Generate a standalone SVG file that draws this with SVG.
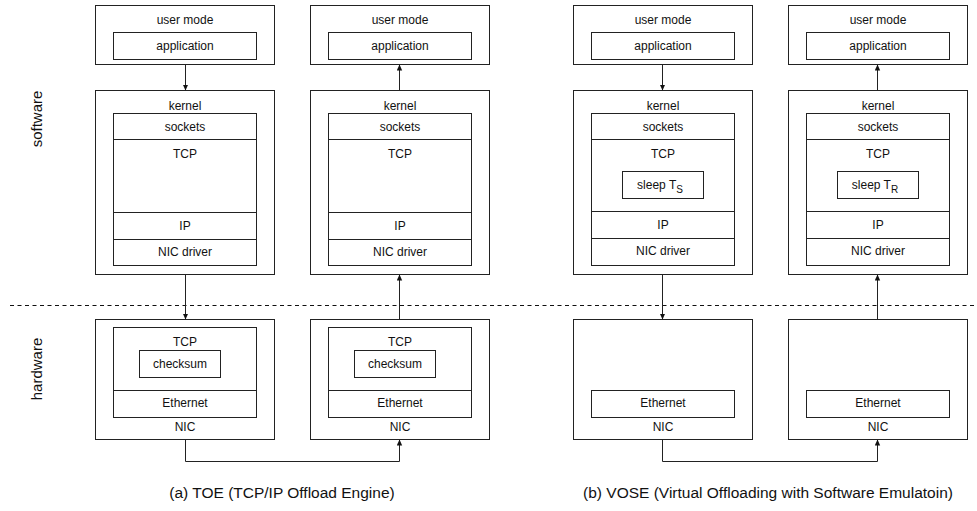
<svg xmlns="http://www.w3.org/2000/svg" width="977" height="511" viewBox="0 0 977 511">
<defs>
<marker id="ah" viewBox="0 0 6 6" refX="6" refY="3" markerWidth="6" markerHeight="6" markerUnits="userSpaceOnUse" orient="auto">
<path d="M0,0.3 L6,3 L0,5.7 Z" fill="#111"/>
</marker>
<style>
rect{fill:#fff;stroke:#222;stroke-width:1}
line.d{stroke:#222;stroke-width:1}
text{font-family:"Liberation Sans",Arial,Helvetica,sans-serif;font-size:12px;fill:#111;text-anchor:middle}
.big{font-size:15px}
.cap{font-size:15.5px}
.c{fill:none;stroke:#222;stroke-width:1}
</style>
</defs>
<rect width="977" height="511" style="fill:#fff;stroke:none"/>

<line x1="10" y1="305.5" x2="977" y2="305.5" style="stroke:#111;stroke-width:1;stroke-dasharray:4 3.5"/>
<text class="big" transform="translate(42,119) rotate(-90)">software</text>
<text class="big" transform="translate(42,369) rotate(-90)">hardware</text>

<!-- Column 1 -->
<g id="c1-user"><rect x="95.5" y="5.5" width="179" height="59"/><text x="185" y="24">user mode</text>
<rect x="113.5" y="32.5" width="143" height="27"/><text x="185" y="50">application</text></g>
<g id="c1-kernel"><rect x="95.5" y="90.5" width="179" height="184"/><text x="185" y="110">kernel</text>
<rect x="113.5" y="113.5" width="143" height="152"/>
<line class="d" x1="113.5" y1="139.5" x2="256.5" y2="139.5"/>
<line class="d" x1="113.5" y1="212.5" x2="256.5" y2="212.5"/>
<line class="d" x1="113.5" y1="239.5" x2="256.5" y2="239.5"/>
<text x="185" y="131">sockets</text><text x="185" y="158">TCP</text><text x="185" y="230">IP</text><text x="185" y="256">NIC driver</text></g>
<g id="c1-nic"><rect x="95.5" y="319.5" width="179" height="120"/>
<rect x="113.5" y="327.5" width="143" height="90"/>
<line class="d" x1="113.5" y1="390.5" x2="256.5" y2="390.5"/>
<text x="185" y="346">TCP</text>
<rect x="139.5" y="350.5" width="81" height="27"/><text x="180" y="368">checksum</text>
<text x="185" y="407">Ethernet</text><text x="185" y="431">NIC</text></g>

<!-- Column 2 -->
<g id="c2-user"><rect x="310.5" y="5.5" width="179" height="59"/><text x="400" y="24">user mode</text>
<rect x="328.5" y="32.5" width="143" height="27"/><text x="400" y="50">application</text></g>
<g id="c2-kernel"><rect x="310.5" y="90.5" width="179" height="184"/><text x="400" y="110">kernel</text>
<rect x="328.5" y="113.5" width="143" height="152"/>
<line class="d" x1="328.5" y1="139.5" x2="471.5" y2="139.5"/>
<line class="d" x1="328.5" y1="212.5" x2="471.5" y2="212.5"/>
<line class="d" x1="328.5" y1="239.5" x2="471.5" y2="239.5"/>
<text x="400" y="131">sockets</text><text x="400" y="158">TCP</text><text x="400" y="230">IP</text><text x="400" y="256">NIC driver</text></g>
<g id="c2-nic"><rect x="310.5" y="319.5" width="179" height="120"/>
<rect x="328.5" y="327.5" width="143" height="90"/>
<line class="d" x1="328.5" y1="390.5" x2="471.5" y2="390.5"/>
<text x="400" y="346">TCP</text>
<rect x="354.5" y="350.5" width="81" height="27"/><text x="395" y="368">checksum</text>
<text x="400" y="407">Ethernet</text><text x="400" y="431">NIC</text></g>

<!-- Column 3 -->
<g id="c3-user"><rect x="573.5" y="5.5" width="179" height="59"/><text x="663" y="24">user mode</text>
<rect x="591.5" y="32.5" width="143" height="27"/><text x="663" y="50">application</text></g>
<g id="c3-kernel"><rect x="573.5" y="90.5" width="179" height="184"/><text x="663" y="110">kernel</text>
<rect x="591.5" y="113.5" width="143" height="152"/>
<line class="d" x1="591.5" y1="139.5" x2="734.5" y2="139.5"/>
<line class="d" x1="591.5" y1="211.5" x2="734.5" y2="211.5"/>
<line class="d" x1="591.5" y1="238.5" x2="734.5" y2="238.5"/>
<text x="663" y="131">sockets</text><text x="663" y="158">TCP</text>
<rect x="622.5" y="171.5" width="81" height="27"/>
<text x="660" y="189">sleep T<tspan font-size="10" dy="4">S</tspan></text>
<text x="663" y="229">IP</text><text x="663" y="255">NIC driver</text></g>
<g id="c3-nic"><rect x="573.5" y="319.5" width="179" height="120"/>
<rect x="591.5" y="390.5" width="143" height="27"/>
<text x="663" y="407">Ethernet</text><text x="663" y="431">NIC</text></g>

<!-- Column 4 -->
<g id="c4-user"><rect x="788.5" y="5.5" width="179" height="59"/><text x="878" y="24">user mode</text>
<rect x="806.5" y="32.5" width="143" height="27"/><text x="878" y="50">application</text></g>
<g id="c4-kernel"><rect x="788.5" y="90.5" width="179" height="184"/><text x="878" y="110">kernel</text>
<rect x="806.5" y="113.5" width="143" height="152"/>
<line class="d" x1="806.5" y1="139.5" x2="949.5" y2="139.5"/>
<line class="d" x1="806.5" y1="211.5" x2="949.5" y2="211.5"/>
<line class="d" x1="806.5" y1="238.5" x2="949.5" y2="238.5"/>
<text x="878" y="131">sockets</text><text x="878" y="158">TCP</text>
<rect x="837.5" y="171.5" width="81" height="27"/>
<text x="875" y="189">sleep T<tspan font-size="10" dy="4">R</tspan></text>
<text x="878" y="229">IP</text><text x="878" y="255">NIC driver</text></g>
<g id="c4-nic"><rect x="788.5" y="319.5" width="179" height="120"/>
<rect x="806.5" y="390.5" width="143" height="27"/>
<text x="878" y="407">Ethernet</text><text x="878" y="431">NIC</text></g>

<g id="connectors">
<line class="c" x1="185.5" y1="64.5" x2="185.5" y2="90.5" marker-end="url(#ah)"/>
<line class="c" x1="185.5" y1="274.5" x2="185.5" y2="319.5" marker-end="url(#ah)"/>
<polyline class="c" points="185.5,439.5 185.5,461.5 399.5,461.5 399.5,439.5" marker-end="url(#ah)"/>
<line class="c" x1="399.5" y1="319.5" x2="399.5" y2="274.5" marker-end="url(#ah)"/>
<line class="c" x1="399.5" y1="90.5" x2="399.5" y2="64.5" marker-end="url(#ah)"/>

<line class="c" x1="662.5" y1="64.5" x2="662.5" y2="90.5" marker-end="url(#ah)"/>
<line class="c" x1="662.5" y1="274.5" x2="662.5" y2="319.5" marker-end="url(#ah)"/>
<polyline class="c" points="662.5,439.5 662.5,461.5 877.5,461.5 877.5,439.5" marker-end="url(#ah)"/>
<line class="c" x1="877.5" y1="319.5" x2="877.5" y2="274.5" marker-end="url(#ah)"/>
<line class="c" x1="877.5" y1="90.5" x2="877.5" y2="64.5" marker-end="url(#ah)"/>
</g>

<text class="cap" x="282" y="498">(a) TOE (TCP/IP Offload Engine)</text>
<text class="cap" x="768" y="498">(b) VOSE (Virtual Offloading with Software Emulatoin)</text>
</svg>
